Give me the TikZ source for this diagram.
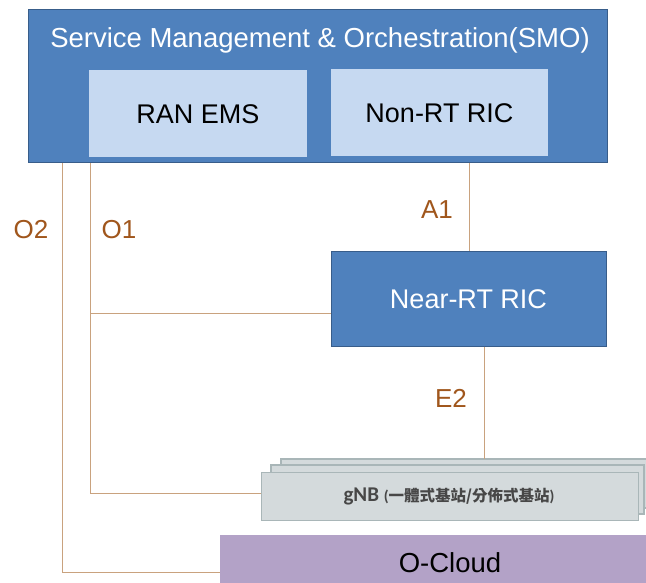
\documentclass[tikz,border=0pt]{standalone}
\usepackage{fontspec}
\setmainfont{Liberation Sans}
\newfontfamily\gnbfont{Carlito}
\newfontfamily\cjkfont{Noto Sans CJK TC}
\definecolor{smoblue}{HTML}{4F81BD}
\definecolor{smoedge}{HTML}{385D8A}
\definecolor{lightblue}{HTML}{C6D9F1}
\definecolor{linktan}{HTML}{C9A27E}
\definecolor{labelbrown}{HTML}{A0561C}
\definecolor{gnbfill}{HTML}{D4DADC}
\definecolor{gnbedge}{HTML}{A9B6B8}
\definecolor{cloud}{HTML}{B3A2C7}
\tikzset{
  bluebox/.style={draw=smoedge, line width=1pt, fill=smoblue},
  innerbox/.style={fill=lightblue},
  gnbbox/.style={draw=gnbedge, line width=1.2pt, fill=gnbfill},
  link/.style={draw=linktan, line width=0.9pt},
  bigtext/.style={font=\fontsize{27}{27}\selectfont},
  iflabel/.style={text=labelbrown, font=\fontsize{26}{26}\selectfont, inner sep=0pt},
}
\begin{document}
\begin{tikzpicture}[x=1pt,y=-1pt]
\useasboundingbox (0,0) rectangle (646,583);

% SMO frame with its two inner function blocks
\draw[bluebox] (28,10) rectangle (607,163);
\node[text=white, font=\fontsize{27.5}{27.5}\selectfont] (smo) at (320,40) {Service Management \& Orchestration(SMO)};
\node[innerbox, minimum width=218pt, minimum height=87pt, bigtext] (ems) at (198,114) {RAN EMS};
\node[innerbox, minimum width=217pt, minimum height=87pt, bigtext] (nonrt) at (439.5,113) {Non-RT RIC};

% Near-RT RIC
\node[bluebox, minimum width=275pt, minimum height=94pt, text=white, bigtext] (nearrt) at (468.5,299) {Near-RT RIC};

% gNB stack
\draw[gnbbox] (281,459) rectangle (660,508);
\draw[gnbbox] (271,465) rectangle (644,514);
\node[gnbbox, minimum width=377pt, minimum height=48pt, anchor=north west, inner sep=0pt] (gnb) at (261,472) {};
\node[text=black!72] (gnbtxt) at (449,496) {\gnbfont\bfseries\fontsize{21}{21}\selectfont gNB \fontsize{15.5}{15.5}\selectfont(\cjkfont 一體式基站/分佈式基站\gnbfont)};

% O-Cloud
\node[fill=cloud, minimum width=440pt, minimum height=52pt, anchor=north west, inner sep=0pt] (ocloud) at (220,535) {};
\node[font=\fontsize{27.5}{27.5}\selectfont] (ocloudtxt) at (450,563) {O-Cloud};

% Interfaces
\coordinate (o2top) at (62,163);
\coordinate (o2bot) at (62,572);
\coordinate (o1top) at (90,163);
\coordinate (o1mid) at (90,313);
\coordinate (o1bot) at (90,493);
\coordinate (a1top) at (469,163);
\coordinate (e2bot) at (484,459);
\draw[link] (o2top) -- (o2bot) -- (o2bot -| ocloud.west);
\draw[link] (o1top) -- (o1bot) -- (o1bot -| gnb.west);
\draw[link] (o1mid) -- (o1mid -| nearrt.west);
\draw[link] (a1top) -- (a1top |- nearrt.north);
\draw[link] (e2bot |- nearrt.south) -- (e2bot);

\node[iflabel] (lo2) at (31,230) {O2};
\node[iflabel] (lo1) at (119,230) {O1};
\node[iflabel] (la1) at (437,210) {A1};
\node[iflabel] (le2) at (451,398) {E2};
\end{tikzpicture}
\end{document}
